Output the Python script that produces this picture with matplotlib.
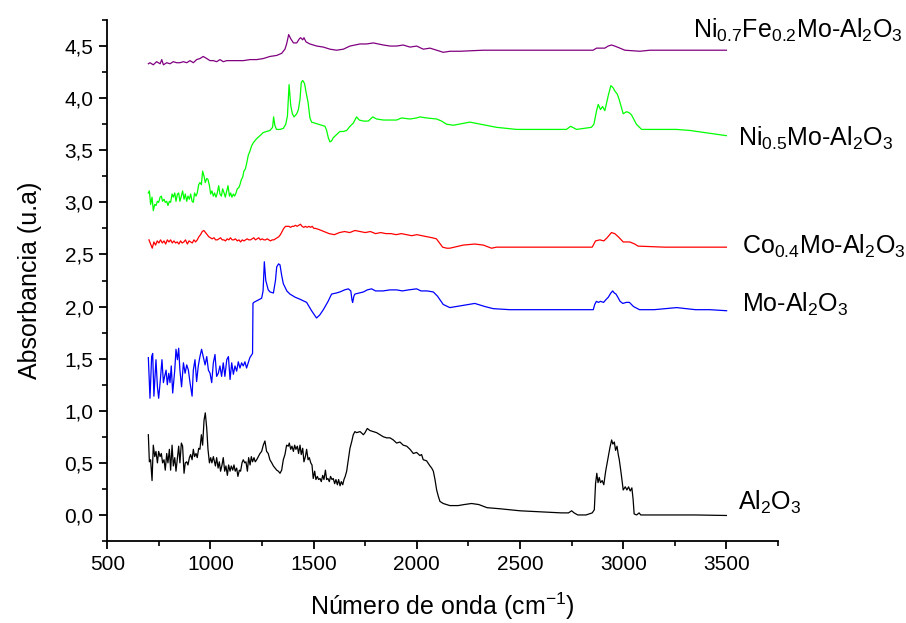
import matplotlib
matplotlib.use("Agg")
import matplotlib.pyplot as plt
from matplotlib.ticker import MultipleLocator, FuncFormatter

plt.rcParams['font.family'] = ['Liberation Sans', 'DejaVu Sans']
plt.rcParams['mathtext.fontset'] = 'custom'
plt.rcParams['mathtext.rm'] = 'Liberation Sans'
plt.rcParams['mathtext.it'] = 'Liberation Sans:italic'
plt.rcParams['mathtext.bf'] = 'Liberation Sans:bold'

# ---- FTIR spectra (wavenumber cm^-1, absorbance u.a.) ----
al2o3_x = [699, 704, 710, 717, 723, 730, 736, 743, 749, 756, 762, 768, 775, 781, 788, 794, 801, 807, 814, 820,
           827, 833, 840, 846, 852, 859, 865, 872, 878, 885, 891, 898, 904, 911, 917, 923, 930, 936, 943, 949,
           956, 962, 969, 975, 982, 988, 995, 1001, 1007, 1014, 1024, 1030, 1037, 1043, 1049, 1056, 1062, 1069,
           1075, 1082, 1088, 1095, 1101, 1108, 1114, 1120, 1127, 1133, 1140, 1146, 1153, 1159, 1166, 1172, 1179,
           1185, 1192, 1198, 1204, 1211, 1217, 1224, 1232, 1240, 1248, 1256, 1264, 1272, 1280, 1288, 1297, 1305,
           1313, 1321, 1329, 1337, 1345, 1353, 1361, 1369, 1377, 1382, 1389, 1395, 1402, 1408, 1414, 1421, 1427,
           1434, 1440, 1447, 1453, 1460, 1466, 1473, 1479, 1486, 1492, 1498, 1505, 1511, 1518, 1524, 1531, 1537,
           1544, 1550, 1557, 1563, 1569, 1576, 1582, 1589, 1595, 1602, 1608, 1615, 1621, 1628, 1634, 1641, 1647,
           1653, 1660, 1668, 1676, 1684, 1692, 1700, 1708, 1725, 1741, 1749, 1760, 1773, 1789, 1805, 1821, 1838,
           1854, 1870, 1886, 1902, 1918, 1934, 1951, 1967, 1983, 1999, 2015, 2023, 2031, 2047, 2064, 2072, 2080,
           2088, 2096, 2104, 2112, 2128, 2160, 2200, 2230, 2265, 2300, 2340, 2400, 2500, 2600, 2700, 2735, 2750,
           2762, 2780, 2820, 2850, 2860, 2866, 2872, 2878, 2884, 2890, 2898, 2906, 2915, 2928, 2936, 2944, 2950,
           2957, 2963, 2970, 2976, 2981, 2990, 3000, 3010, 3018, 3026, 3034, 3042, 3048, 3053, 3065, 3077, 3085,
           3200, 3350, 3500]
al2o3_y = [0.77, 0.51, 0.53, 0.33, 0.67, 0.56, 0.61, 0.50, 0.61, 0.56, 0.59, 0.50, 0.53, 0.43, 0.59, 0.50, 0.63,
           0.43, 0.67, 0.47, 0.55, 0.42, 0.55, 0.66, 0.50, 0.69, 0.66, 0.40, 0.50, 0.51, 0.48, 0.55, 0.58, 0.53,
           0.63, 0.56, 0.59, 0.55, 0.64, 0.63, 0.77, 0.67, 0.91, 0.98, 0.83, 0.63, 0.50, 0.55, 0.50, 0.56, 0.47,
           0.55, 0.45, 0.51, 0.42, 0.48, 0.55, 0.42, 0.47, 0.38, 0.48, 0.42, 0.47, 0.43, 0.48, 0.42, 0.45, 0.37,
           0.43, 0.42, 0.50, 0.53, 0.50, 0.51, 0.42, 0.55, 0.48, 0.56, 0.51, 0.55, 0.51, 0.53, 0.56, 0.59, 0.61,
           0.67, 0.71, 0.61, 0.59, 0.53, 0.50, 0.47, 0.45, 0.43, 0.42, 0.40, 0.43, 0.53, 0.58, 0.67, 0.66, 0.69,
           0.63, 0.66, 0.61, 0.67, 0.63, 0.66, 0.59, 0.67, 0.58, 0.64, 0.51, 0.56, 0.63, 0.53, 0.55, 0.50, 0.48,
           0.35, 0.42, 0.34, 0.37, 0.34, 0.35, 0.32, 0.38, 0.34, 0.43, 0.34, 0.35, 0.32, 0.37, 0.34, 0.35, 0.30,
           0.34, 0.29, 0.34, 0.28, 0.32, 0.29, 0.34, 0.37, 0.42, 0.53, 0.64, 0.70, 0.77, 0.80, 0.79, 0.80, 0.77,
           0.79, 0.83, 0.81, 0.80, 0.79, 0.77, 0.75, 0.74, 0.74, 0.72, 0.69, 0.70, 0.67, 0.66, 0.63, 0.59, 0.60,
           0.57, 0.58, 0.53, 0.52, 0.47, 0.45, 0.42, 0.34, 0.24, 0.18, 0.13, 0.11, 0.09, 0.09, 0.10, 0.11, 0.10,
           0.07, 0.06, 0.04, 0.03, 0.02, 0.02, 0.04, 0.02, 0.00, 0.00, 0.02, 0.05, 0.30, 0.40, 0.31, 0.36, 0.31,
           0.33, 0.29, 0.42, 0.56, 0.65, 0.72, 0.68, 0.70, 0.62, 0.66, 0.58, 0.53, 0.40, 0.24, 0.27, 0.24, 0.27,
           0.23, 0.26, 0.15, 0.01, 0.00, 0.02, 0.00, 0.00, 0.00, -0.005]

mo_x = [699, 707, 715, 720, 726, 736, 743, 749, 756, 765, 772, 778, 785, 791, 798, 804, 810, 817, 827, 833, 840,
        846, 852, 860, 869, 877, 885, 893, 901, 911, 917, 925, 933, 941, 949, 957, 965, 974, 982, 990, 998, 1006,
        1014, 1022, 1030, 1038, 1046, 1054, 1062, 1070, 1079, 1087, 1095, 1103, 1111, 1119, 1127, 1135, 1143,
        1151, 1159, 1167, 1175, 1183, 1191, 1204, 1206, 1210, 1248, 1255, 1261, 1268, 1280, 1289, 1305, 1315,
        1321, 1330, 1337, 1345, 1353, 1370, 1385, 1410, 1434, 1466, 1490, 1514, 1530, 1547, 1570, 1587, 1610,
        1627, 1650, 1668, 1680, 1686, 1689, 1695, 1700, 1720, 1741, 1760, 1781, 1800, 1836, 1870, 1902, 1930,
        1960, 1999, 2020, 2050, 2080, 2100, 2128, 2160, 2220, 2281, 2330, 2370, 2450, 2550, 2650, 2750, 2855,
        2862, 2870, 2880, 2890, 2905, 2918, 2928, 2940, 2949, 2957, 2965, 2974, 2985, 2998, 3015, 3030, 3050,
        3079, 3150, 3259, 3350, 3420, 3501]
mo_y = [1.51, 1.12, 1.52, 1.55, 1.14, 1.49, 1.23, 1.12, 1.27, 1.49, 1.27, 1.33, 1.39, 1.25, 1.36, 1.27, 1.43,
        1.17, 1.39, 1.59, 1.49, 1.60, 1.39, 1.23, 1.46, 1.36, 1.44, 1.39, 1.27, 1.14, 1.39, 1.49, 1.28, 1.43,
        1.52, 1.59, 1.52, 1.44, 1.52, 1.39, 1.36, 1.27, 1.46, 1.54, 1.33, 1.36, 1.43, 1.33, 1.46, 1.33, 1.49,
        1.52, 1.30, 1.46, 1.35, 1.43, 1.38, 1.47, 1.41, 1.46, 1.43, 1.47, 1.41, 1.46, 1.51, 1.55, 2.03, 2.04,
        2.08, 2.15, 2.43, 2.25, 2.16, 2.14, 2.13, 2.25, 2.38, 2.41, 2.40, 2.30, 2.22, 2.15, 2.12, 2.09, 2.07,
        2.04, 1.96, 1.89, 1.92, 1.97, 2.05, 2.12, 2.13, 2.14, 2.16, 2.17, 2.15, 2.06, 2.04, 2.10, 2.12, 2.13,
        2.14, 2.16, 2.17, 2.15, 2.15, 2.16, 2.16, 2.15, 2.16, 2.17, 2.15, 2.15, 2.14, 2.10, 2.02, 1.99, 2.01,
        2.03, 2.00, 1.98, 1.97, 1.97, 1.97, 1.97, 1.97, 2.02, 2.05, 2.04, 2.05, 2.04, 2.07, 2.09, 2.13, 2.15,
        2.13, 2.12, 2.09, 2.05, 2.03, 2.04, 2.04, 2.00, 1.97, 1.97, 1.99, 1.97, 1.97, 1.96]

co_x = [702, 710, 718, 726, 734, 742, 750, 758, 767, 775, 783, 791, 799, 807, 815, 823, 831, 839, 847, 855, 863,
        871, 879, 888, 896, 904, 912, 920, 928, 936, 944, 952, 960, 968, 976, 984, 992, 1000, 1008, 1017, 1025,
        1033, 1041, 1049, 1057, 1065, 1073, 1081, 1089, 1097, 1105, 1113, 1121, 1130, 1138, 1146, 1154, 1162,
        1170, 1178, 1186, 1194, 1202, 1210, 1218, 1226, 1234, 1242, 1251, 1259, 1267, 1275, 1283, 1291, 1299,
        1307, 1315, 1323, 1331, 1339, 1347, 1355, 1364, 1372, 1380, 1388, 1396, 1404, 1412, 1420, 1428, 1436,
        1444, 1452, 1460, 1468, 1477, 1485, 1493, 1501, 1509, 1525, 1550, 1575, 1600, 1625, 1650, 1675, 1700,
        1725, 1750, 1775, 1800, 1825, 1850, 1875, 1900, 1925, 1950, 1975, 2000, 2025, 2050, 2075, 2095, 2110,
        2125, 2145, 2160, 2225, 2281, 2322, 2362, 2386, 2500, 2700, 2850, 2866, 2887, 2906, 2922, 2943, 2959,
        2976, 3000, 3032, 3056, 3072, 3200, 3350, 3500]
co_y = [2.64, 2.60, 2.56, 2.62, 2.59, 2.63, 2.61, 2.64, 2.61, 2.63, 2.60, 2.64, 2.62, 2.64, 2.61, 2.63, 2.61,
        2.62, 2.60, 2.63, 2.61, 2.62, 2.64, 2.60, 2.63, 2.62, 2.61, 2.64, 2.62, 2.64, 2.67, 2.69, 2.72, 2.73,
        2.71, 2.69, 2.67, 2.66, 2.65, 2.66, 2.64, 2.64, 2.65, 2.66, 2.64, 2.64, 2.63, 2.65, 2.64, 2.66, 2.64,
        2.64, 2.65, 2.63, 2.64, 2.62, 2.64, 2.63, 2.64, 2.65, 2.64, 2.64, 2.65, 2.66, 2.64, 2.65, 2.66, 2.64,
        2.65, 2.64, 2.64, 2.65, 2.64, 2.63, 2.64, 2.64, 2.65, 2.66, 2.67, 2.69, 2.72, 2.75, 2.77, 2.77, 2.77,
        2.76, 2.77, 2.77, 2.78, 2.77, 2.78, 2.79, 2.77, 2.76, 2.77, 2.76, 2.77, 2.76, 2.77, 2.75, 2.75, 2.74,
        2.72, 2.70, 2.69, 2.71, 2.72, 2.71, 2.73, 2.72, 2.71, 2.72, 2.70, 2.71, 2.70, 2.70, 2.69, 2.70, 2.69,
        2.68, 2.69, 2.68, 2.67, 2.66, 2.65, 2.61, 2.57, 2.56, 2.56, 2.59, 2.60, 2.59, 2.56, 2.57, 2.57, 2.57,
        2.57, 2.63, 2.64, 2.63, 2.66, 2.71, 2.70, 2.67, 2.62, 2.62, 2.60, 2.58, 2.57, 2.57, 2.57]

ni05_x = [699, 704, 710, 717, 723, 730, 736, 743, 749, 756, 762, 768, 775, 781, 788, 794, 801, 807, 814, 820, 827,
          833, 840, 846, 852, 859, 865, 872, 878, 885, 891, 898, 904, 911, 917, 923, 930, 936, 943, 949, 956, 962,
          969, 975, 982, 988, 995, 1001, 1007, 1014, 1020, 1027, 1033, 1040, 1046, 1053, 1059, 1066, 1072, 1079,
          1085, 1092, 1098, 1104, 1111, 1117, 1124, 1130, 1137, 1143, 1150, 1156, 1162, 1169, 1175, 1183, 1191,
          1199, 1207, 1215, 1223, 1240, 1256, 1272, 1288, 1301, 1306, 1312, 1320, 1337, 1353, 1365, 1373, 1381,
          1389, 1397, 1405, 1418, 1426, 1434, 1440, 1447, 1456, 1463, 1473, 1482, 1490, 1506, 1522, 1539, 1555,
          1563, 1571, 1579, 1587, 1595, 1611, 1627, 1644, 1660, 1676, 1692, 1708, 1721, 1741, 1765, 1786, 1805,
          1838, 1902, 1926, 1967, 1999, 2015, 2047, 2096, 2120, 2144, 2177, 2257, 2386, 2483, 2612, 2725, 2745,
          2774, 2846, 2858, 2871, 2879, 2890, 2900, 2911, 2927, 2940, 2951, 2959, 2971, 2980, 3000, 3016, 3029,
          3040, 3064, 3089, 3258, 3323, 3500]
ni05_y = [3.09, 3.11, 2.98, 3.05, 2.92, 2.98, 2.97, 3.01, 3.00, 3.05, 3.06, 3.01, 3.03, 3.00, 3.01, 2.97, 3.01,
          3.00, 3.08, 3.05, 3.09, 3.01, 3.08, 3.09, 3.01, 3.06, 3.11, 3.03, 3.08, 3.01, 3.06, 3.03, 3.08, 3.01,
          3.00, 3.09, 3.06, 3.09, 3.17, 3.19, 3.17, 3.30, 3.25, 3.19, 3.23, 3.22, 3.16, 3.08, 3.11, 3.06, 3.09,
          3.05, 3.09, 3.16, 3.08, 3.06, 3.13, 3.09, 3.05, 3.11, 3.16, 3.06, 3.09, 3.05, 3.08, 3.06, 3.09, 3.13,
          3.14, 3.17, 3.22, 3.24, 3.30, 3.32, 3.37, 3.45, 3.49, 3.54, 3.57, 3.59, 3.61, 3.64, 3.67, 3.68, 3.69,
          3.72, 3.82, 3.74, 3.70, 3.70, 3.71, 3.75, 3.83, 4.13, 3.93, 3.85, 3.82, 3.85, 3.89, 3.99, 4.15, 4.17,
          4.14, 4.06, 3.96, 3.81, 3.77, 3.76, 3.75, 3.74, 3.73, 3.69, 3.62, 3.58, 3.59, 3.62, 3.65, 3.68, 3.68,
          3.69, 3.73, 3.76, 3.82, 3.79, 3.78, 3.78, 3.82, 3.80, 3.79, 3.79, 3.81, 3.80, 3.81, 3.82, 3.81, 3.80,
          3.78, 3.75, 3.74, 3.77, 3.72, 3.70, 3.70, 3.70, 3.73, 3.70, 3.72, 3.75, 3.88, 3.94, 3.89, 3.92, 3.88,
          4.02, 4.12, 4.10, 4.07, 4.04, 3.99, 3.85, 3.87, 3.86, 3.84, 3.75, 3.70, 3.70, 3.69, 3.64]

ni07_x = [699, 707, 723, 739, 756, 764, 772, 788, 804, 820, 836, 852, 869, 885, 901, 917, 933, 949, 965, 982, 998,
          1014, 1030, 1046, 1062, 1079, 1095, 1127, 1159, 1192, 1224, 1256, 1288, 1321, 1345, 1361, 1369, 1379,
          1389, 1402, 1418, 1431, 1437, 1447, 1453, 1463, 1482, 1515, 1547, 1579, 1611, 1644, 1676, 1725, 1757,
          1789, 1838, 1870, 1902, 1934, 1967, 1999, 2031, 2064, 2096, 2128, 2161, 2209, 2321, 2483, 2644, 2854,
          2871, 2911, 2927, 2943, 2959, 2984, 3008, 3081, 3129, 3290, 3500]
ni07_y = [4.33, 4.34, 4.32, 4.35, 4.33, 4.37, 4.32, 4.34, 4.33, 4.35, 4.34, 4.34, 4.35, 4.34, 4.36, 4.34, 4.37,
          4.38, 4.40, 4.38, 4.36, 4.36, 4.35, 4.37, 4.35, 4.36, 4.36, 4.36, 4.36, 4.37, 4.37, 4.38, 4.40, 4.41,
          4.43, 4.47, 4.52, 4.61, 4.57, 4.53, 4.53, 4.57, 4.58, 4.56, 4.58, 4.54, 4.52, 4.50, 4.49, 4.47, 4.46,
          4.47, 4.50, 4.52, 4.52, 4.53, 4.51, 4.50, 4.50, 4.51, 4.49, 4.50, 4.47, 4.48, 4.46, 4.44, 4.45, 4.45,
          4.46, 4.46, 4.46, 4.46, 4.48, 4.48, 4.50, 4.51, 4.50, 4.48, 4.46, 4.45, 4.46, 4.46, 4.46]

series = [
    (al2o3_x, al2o3_y, '#000000', r'Al$_2$O$_3$', 3555, 0.12),
    (mo_x, mo_y, '#0000ff', r'Mo-Al$_2$O$_3$', 3574, 2.02),
    (co_x, co_y, '#ff0000', r'Co$_{0.4}$Mo-Al$_2$O$_3$', 3574, 2.58),
    (ni05_x, ni05_y, '#00ff00', r'Ni$_{0.5}$Mo-Al$_2$O$_3$', 3555, 3.61),
    (ni07_x, ni07_y, '#800080', r'Ni$_{0.7}$Fe$_{0.2}$Mo-Al$_2$O$_3$', 3338, 4.65),
]

fig = plt.figure(figsize=(9.06, 6.23), dpi=100)
ax = fig.add_axes([0.1184, 0.1316, 0.7403, 0.8363])

for xs, ys, color, label, lx, ly in series:
    ax.plot(xs, ys, color=color, lw=0.9)
    ax.text(lx, ly, label, fontsize=18, color='black', va='center', ha='left', clip_on=False)

ax.set_xlim(500, 3750)
ax.set_ylim(-0.25, 4.75)
ax.xaxis.set_major_locator(MultipleLocator(500))
ax.xaxis.set_minor_locator(MultipleLocator(250))
ax.yaxis.set_major_locator(MultipleLocator(0.5))
ax.yaxis.set_minor_locator(MultipleLocator(0.25))
ax.yaxis.set_major_formatter(FuncFormatter(lambda v, p: f"{v:.1f}".replace('.', ',')))

for side in ('top', 'right'):
    ax.spines[side].set_visible(False)
for side in ('left', 'bottom'):
    ax.spines[side].set_linewidth(1.3)

ax.tick_params(which='major', direction='out', length=6, width=1.3, labelsize=15, pad=4)
ax.tick_params(which='minor', direction='out', length=3.5, width=1.2)

ax.set_xlabel(r'Número de onda (cm$^{-1}$)', fontsize=18, labelpad=12)
ax.set_ylabel('Absorbancia (u.a)', fontsize=18, labelpad=16)

fig.savefig('out.png', dpi=100)
